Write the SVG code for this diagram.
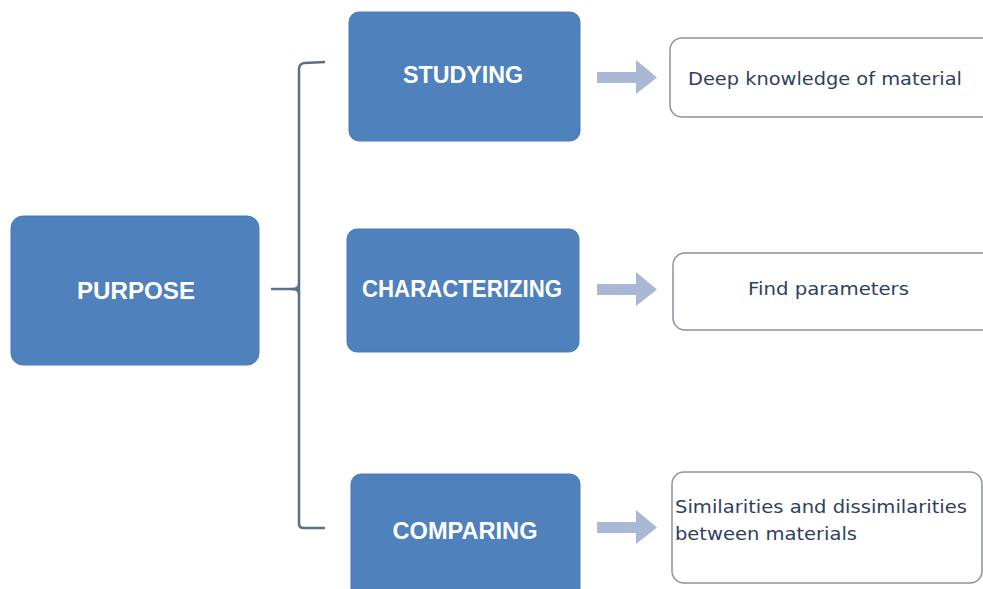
<svg xmlns="http://www.w3.org/2000/svg" width="983" height="589" viewBox="0 0 983 589">
<defs>
<style>
.blue{fill:#4f81bd;stroke:#4a7ab5;stroke-width:1}
.res{fill:#ffffff;stroke:#8c939c;stroke-width:1.5}
.bt{font-family:"Liberation Sans",Arial,sans-serif;font-weight:bold;font-size:23px;fill:#ffffff;text-anchor:middle}
.rt{font-family:"DejaVu Sans","Liberation Sans",sans-serif;font-size:17px;fill:#2e3f5e}
.br{fill:none;stroke:#5b6f8c;stroke-width:2.5}
.arr{fill:#a9b8d4}
</style>
</defs>
<rect width="983" height="589" fill="#ffffff"/>
<g id="connectors">
<path class="br" d="M325,62 L304,63 Q299,64 299,69 L299,524 Q299,528 304,528 L325,528"/>
<path class="br" d="M271,289 L292,289 Q299,289 299,284"/>
<path class="br" d="M299,294 Q299,289 292,289"/>
<polygon class="arr" points="597,72 636,72 636,60 657,77.5 636,94 636,83 597,83"/>
<polygon class="arr" points="597,284 636,284 636,272 657,289.5 636,306 636,295 597,295"/>
<polygon class="arr" points="597,522 636,522 636,510 657,527.5 636,544 636,533 597,533"/>
</g>
<g id="purpose">
<rect class="blue" x="11" y="216" width="248" height="149" rx="12"/>
<text class="bt" x="136" y="299" textLength="118" lengthAdjust="spacingAndGlyphs">PURPOSE</text>
</g>
<g id="studying">
<rect class="blue" x="349" y="12" width="231" height="129" rx="10"/>
<text class="bt" x="463" y="83" textLength="120" lengthAdjust="spacingAndGlyphs">STUDYING</text>
</g>
<g id="characterizing">
<rect class="blue" x="347" y="229" width="232" height="123" rx="10"/>
<text class="bt" x="462" y="297" textLength="200" lengthAdjust="spacingAndGlyphs">CHARACTERIZING</text>
</g>
<g id="comparing">
<rect class="blue" x="351" y="474" width="229" height="125" rx="10"/>
<text class="bt" x="465" y="539" textLength="145" lengthAdjust="spacingAndGlyphs">COMPARING</text>
</g>
<g id="deep-knowledge">
<rect class="res" x="670" y="38" width="330" height="79" rx="12"/>
<text class="rt" x="688" y="85" textLength="274" lengthAdjust="spacingAndGlyphs">Deep knowledge of material</text>
</g>
<g id="find-parameters">
<rect class="res" x="673" y="253" width="330" height="77" rx="12"/>
<text class="rt" x="748" y="295" textLength="161" lengthAdjust="spacingAndGlyphs">Find parameters</text>
</g>
<g id="similarities">
<rect class="res" x="672" y="472" width="310" height="111" rx="12"/>
<text class="rt" x="675" y="513" textLength="292" lengthAdjust="spacingAndGlyphs">Similarities and dissimilarities</text>
<text class="rt" x="675" y="540" textLength="182" lengthAdjust="spacingAndGlyphs">between materials</text>
</g>
</svg>
